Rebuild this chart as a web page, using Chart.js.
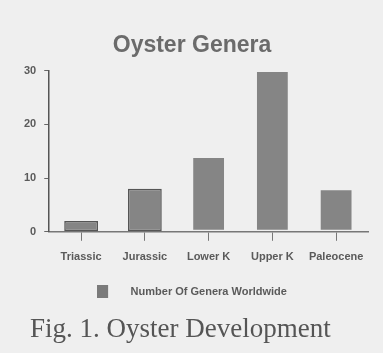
<!DOCTYPE html>
<html>
<head>
<meta charset="utf-8">
<script src="https://cdn.jsdelivr.net/npm/chart.js@4"></script>
<style>
  html, body { margin: 0; padding: 0; background: #efefef; }
  #wrap { position: relative; width: 383px; height: 353px; }
  #caption {
    position: absolute; left: 30px; top: 311px;
    font-family: "Liberation Serif", "DejaVu Serif", serif;
    font-size: 27px; color: #555555; white-space: nowrap; line-height: 34px;
  }
</style>
</head>
<body>
<div id="wrap">
  <canvas id="c" width="383" height="353"></canvas>
  <div id="caption">Fig. 1. Oyster Development</div>
</div>
<script>
// Geological periods and number of oyster genera known worldwide
const periods = ['Triassic', 'Jurassic', 'Lower K', 'Upper K', 'Paleocene'];
const generaCounts = [2, 8, 14, 30, 8];
const yTicks = [0, 10, 20, 30];
const seriesName = 'Number Of Genera Worldwide';
const chartTitle = 'Oyster Genera';

const barGray = '#858585';
const inkGray = '#5a5a5a';

// Legend swatch: square on the left of a wider transparent strip
const swatch = document.createElement('canvas');
swatch.width = 28; swatch.height = 13;
const sctx = swatch.getContext('2d');
sctx.fillStyle = '#7a7a7a';
sctx.fillRect(0, 0, 11, 13);

new Chart(document.getElementById('c'), {
  type: 'bar',
  data: {
    labels: periods,
    datasets: [{
      label: seriesName,
      data: generaCounts,
      backgroundColor: barGray,
      borderColor: ['#555555', '#555555', 'rgba(0,0,0,0)', 'rgba(0,0,0,0)', 'rgba(0,0,0,0)'],
      borderWidth: 1.5,
      borderSkipped: false,
      categoryPercentage: 1.0,
      barPercentage: 0.53,
      pointStyle: swatch
    }]
  },
  options: {
    responsive: false,
    animation: false,
    layout: { padding: { left: 16, right: 15, top: 0, bottom: 46 } },
    plugins: {
      title: {
        display: true,
        text: chartTitle,
        color: '#6b6b6b',
        font: { family: 'Liberation Sans, Arial, sans-serif', size: 23, weight: 'bold' },
        padding: { top: 32, bottom: 11 }
      },
      legend: {
        display: true,
        position: 'bottom',
        labels: {
          usePointStyle: true,
          pointStyleWidth: 28,
          boxHeight: 13,
          color: inkGray,
          font: { family: 'Liberation Sans, Arial, sans-serif', size: 11, weight: 'bold' },
          padding: 10
        }
      },
      tooltip: { enabled: false }
    },
    scales: {
      x: {
        afterFit: (axis) => { axis.height += 2; },
        grid: { display: true, drawOnChartArea: false, tickLength: 9, color: '#777777', offset: false },
        border: { display: true, color: '#777777', width: 1.5 },
        ticks: {
          color: inkGray, padding: 10,
          font: { family: 'Liberation Sans, Arial, sans-serif', size: 11, weight: 'bold' }
        }
      },
      y: {
        min: 0, max: 30,
        afterBuildTicks: (axis) => { axis.ticks = yTicks.map(v => ({ value: v })); },
        grid: { display: true, drawOnChartArea: false, tickLength: 5, color: '#666666' },
        border: { display: true, color: '#555555', width: 1.5 },
        ticks: {
          color: inkGray, padding: 8,
          font: { family: 'Liberation Sans, Arial, sans-serif', size: 11, weight: 'bold' }
        }
      }
    }
  }
});
</script>
</body>
</html>
